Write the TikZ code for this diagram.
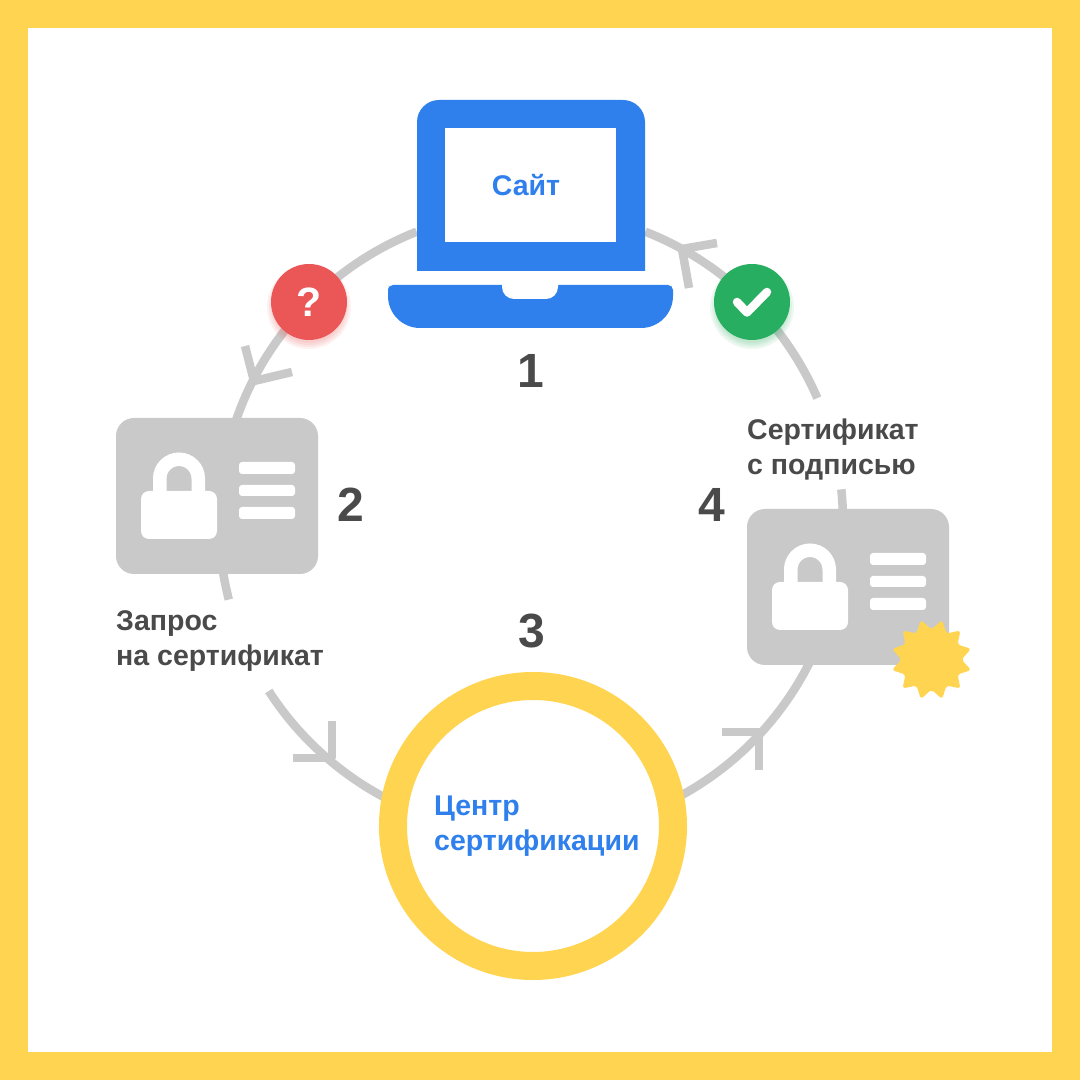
\documentclass[tikz,border=0pt]{standalone}
\usepackage{fontspec}
\setmainfont{Liberation Sans}
\usetikzlibrary{calc}
\definecolor{frameyellow}{HTML}{FFD451}
\definecolor{loopgray}{HTML}{C9C9C9}
\definecolor{siteblue}{HTML}{2F80ED}
\definecolor{textgray}{HTML}{4A4A4A}
\definecolor{askred}{HTML}{EB5757}
\definecolor{okgreen}{HTML}{27AE60}
\tikzset{
    loopline/.style={draw=loopgray, line width=8.5pt},
    chevron/.style={draw=loopgray, line width=8.5pt, line join=bevel},
    stepnum/.style={text=textgray, font=\bfseries\fontsize{48}{48}\selectfont, inner sep=0pt},
    caption/.style={text=textgray, font=\bfseries\fontsize{28.5}{35}\selectfont, align=left, inner sep=0pt},
    bluecaption/.style={caption, text=siteblue},
    badge/.style={circle, minimum size=76pt, inner sep=0pt, text=white, font=\bfseries\fontsize{41}{41}\selectfont},
}
\begin{document}
\begin{tikzpicture}[x=1pt, y=1pt]
    \useasboundingbox (0, 0) rectangle (1080, 1080);
    \fill[frameyellow] (0, 0) rectangle (1080, 1080);
    \fill[white] (28, 28) rectangle (1052, 1052);

    % the loop
    \coordinate (hub) at (531, 558);
    \draw[loopline] ($(hub)+(111.5:312pt)$) arc[start angle=111.5, end angle=170, radius=312pt];
    \draw[loopline] ($(hub)+(185:312pt)$) arc[start angle=185, end angle=194.4, radius=312pt];
    \draw[loopline] ($(hub)+(212.8:312pt)$) arc[start angle=212.8, end angle=245, radius=312pt];
    \draw[loopline] ($(hub)+(-65:312pt)$) arc[start angle=-65, end angle=-25, radius=312pt];
    \draw[loopline] ($(hub)+(-5:312pt)$) arc[start angle=-5, end angle=6, radius=312pt];
    \draw[loopline] ($(hub)+(23.4:312pt)$) arc[start angle=23.4, end angle=68.5, radius=312pt];

    % arrow heads on the loop
    \foreach \tipx/\tipy/\ax/\ay/\bx/\by in {254/699/245/734/292/708, 682/831/717/837/689/792,
            332/322/332/359/293/322, 759/348/759/310/722/348} {
        \coordinate (armA) at (\ax, \ay);
        \coordinate (armB) at (\bx, \by);
        \coordinate (tip) at (\tipx, \tipy);
        \draw[chevron] (armA) -- (tip) -- (armB);
    }

    % laptop
    \fill[siteblue] (417, 809) [rounded corners=22pt] -- (417, 980) -- (645, 980) [sharp corners] -- (645, 809) -- cycle;
    \fill[white] (445, 838) rectangle (616, 952);
    \fill[siteblue] (388, 790) [rounded corners=32pt] -- (388, 752) -- (673, 752) [rounded corners=5pt] -- (673, 795) -- (388, 795) -- cycle;
    \fill[white] (502, 796) [rounded corners=12pt] -- (502, 781) -- (558, 781) [sharp corners] -- (558, 796) -- cycle;
    \node[bluecaption] (site) at (526, 895) {Сайт};
    \node[stepnum] (one) at (531, 709) {1};

    % certificate cards
    \foreach \cardx/\cardy in {0/0, 631/-91} {
        \begin{scope}[shift={(\cardx, \cardy)}]
            \fill[loopgray, rounded corners=18pt] (116, 506) rectangle (318, 662);
            \draw[white, line width=13.5pt] (159.75, 580) -- (159.75, 601.5) arc[start angle=180, end angle=0, radius=19.25pt] -- (198.25, 580);
            \fill[white, rounded corners=8pt] (141, 541) rectangle (217, 589);
            \fill[white, rounded corners=3pt] (239, 606) rectangle (295, 618);
            \fill[white, rounded corners=3pt] (239, 584) rectangle (295, 595);
            \fill[white, rounded corners=3pt] (239, 561) rectangle (295, 573);
        \end{scope}
    }
    % seal on the signed card
    \begin{scope}[shift={(931.5, 420.5)}]
        \fill[frameyellow, rounded corners=3pt] plot[samples at={0, 15, ..., 345}] (\x:{ifthenelse(mod(\x, 30)==0, 30, 41)}) -- cycle;
    \end{scope}

    \node[stepnum] (two) at (351, 575) {2};
    \node[stepnum] (four) at (712, 575) {4};
    \node[caption, anchor=north west] (request) at (116, 470) {Запрос\\на сертификат};
    \node[caption, anchor=north west] (signed) at (747, 661) {Сертификат\\с подписью};

    % certificate authority
    \node[circle, draw=frameyellow, line width=28pt, fill=white, minimum size=280pt, inner sep=0pt] (ca) at (533, 254) {};
    \node[stepnum] (three) at (532, 449) {3};
    \node[bluecaption, anchor=north west] (catext) at (434, 284) {Центр\\сертификации};

    % badges with a soft glow
    \foreach \glow in {36, 38, ..., 42} {
        \fill[askred, opacity=0.08] (309, 773) circle (\glow pt);
        \fill[okgreen, opacity=0.08] (752, 773) circle (\glow pt);
    }
    \node[badge, fill=askred] (ask) at (309, 778) {?};
    \node[badge, fill=okgreen] (ok) at (752, 778) {};
    \draw[white, line width=8.5pt, line join=round, line cap=round] (737, 778) -- (747, 767.5) -- (767, 788);
\end{tikzpicture}
\end{document}
